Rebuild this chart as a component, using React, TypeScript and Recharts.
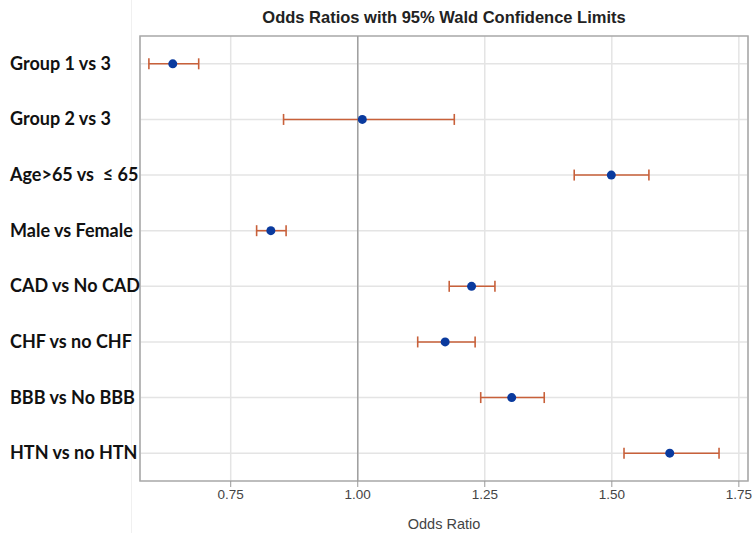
import {
  ScatterChart,
  Scatter,
  XAxis,
  YAxis,
  CartesianGrid,
  ErrorBar,
  ReferenceLine,
  ReferenceArea,
} from 'recharts';

const labels = [
  'Group 1 vs 3',
  'Group 2 vs 3',
  'Age>65 vs \u00a0\u2264 65',
  'Male vs Female',
  'CAD vs No CAD',
  'CHF vs no CHF',
  'BBB vs No BBB',
  'HTN vs no HTN',
];
const oddsRatio = [0.636, 1.009, 1.499, 0.829, 1.224, 1.172, 1.303, 1.614];
const lowerCL = [0.589, 0.854, 1.426, 0.801, 1.18, 1.118, 1.242, 1.524];
const upperCL = [0.687, 1.19, 1.573, 0.859, 1.27, 1.231, 1.367, 1.711];
const xTicks = [0.75, 1.0, 1.25, 1.5, 1.75];

const X_MIN = 0.5715;
const X_MAX = 1.768;

const data = labels.map((name, i) => ({
  name,
  y: i,
  x: oddsRatio[i],
  err: [oddsRatio[i] - lowerCL[i], upperCL[i] - oddsRatio[i]],
}));

function RowLabel(props: any) {
  const { y, payload } = props;
  return (
    <text
      x={10}
      y={y}
      dy={6}
      textAnchor="start"
      fill="#111"
      fontFamily="Lato, 'Open Sans', sans-serif"
      fontWeight="bold"
      fontSize={18}
    >
      {labels[payload.value]}
    </text>
  );
}

export default function App() {
  return (
    <div style={{ position: 'absolute', left: 0, top: 0, width: 753, height: 533, background: '#fff' }}>
      <div style={{ position: 'absolute', left: 131, top: 0, width: 1, height: 533, background: '#f0f0f0' }} />
      <ScatterChart
        width={753}
        height={533}
        margin={{ top: 36, right: 5, bottom: 0, left: 0 }}
        style={{ position: 'absolute', left: 0, top: 0 }}
      >
        <CartesianGrid stroke="#e4e4e4" strokeWidth={1.5} horizontalValues={[0, 1, 2, 3, 4, 5, 6, 7]} />
        <XAxis
          type="number"
          dataKey="x"
          domain={[X_MIN, X_MAX]}
          ticks={xTicks}
          allowDataOverflow
          tickFormatter={(v: number) => v.toFixed(2)}
          tick={{ fill: '#444', fontSize: 13.5, fontFamily: "'Liberation Sans', Arial, sans-serif" }}
          tickLine={{ stroke: '#999' }}
          tickSize={6}
          axisLine={false}
          height={52}
        />
        <YAxis
          type="number"
          dataKey="y"
          domain={[-0.5, 7.5]}
          ticks={[0, 1, 2, 3, 4, 5, 6, 7]}
          reversed
          width={140}
          axisLine={false}
          tickLine={false}
          tick={<RowLabel />}
        />
        <ReferenceArea
          x1={X_MIN}
          x2={X_MAX}
          y1={-0.5}
          y2={7.5}
          fill="none"
          stroke="#a8a8a8"
          strokeWidth={1.5}
        />
        <ReferenceLine x={1} stroke="#a0a0a0" strokeWidth={1.5} />
        <Scatter data={data} fill="#0a3a9e" isAnimationActive={false} shape={(p: any) => <circle cx={p.cx} cy={p.cy} r={4.5} fill="#0a3a9e" />}>
          <ErrorBar dataKey="err" direction="x" width={5.5} stroke="#c8603a" strokeWidth={1.6} isAnimationActive={false} />
        </Scatter>
      </ScatterChart>
      <div
        style={{
          position: 'absolute',
          left: 140,
          width: 608,
          top: 8,
          textAlign: 'center',
          fontFamily: "'Liberation Sans', Arial, sans-serif",
          fontWeight: 'bold',
          fontSize: 16.5,
          color: '#222',
        }}
      >
        Odds Ratios with 95% Wald Confidence Limits
      </div>
      <div
        style={{
          position: 'absolute',
          left: 140,
          width: 608,
          top: 516,
          textAlign: 'center',
          fontFamily: "'Liberation Sans', Arial, sans-serif",
          fontSize: 14.5,
          color: '#444',
        }}
      >
        Odds Ratio
      </div>
    </div>
  );
}
